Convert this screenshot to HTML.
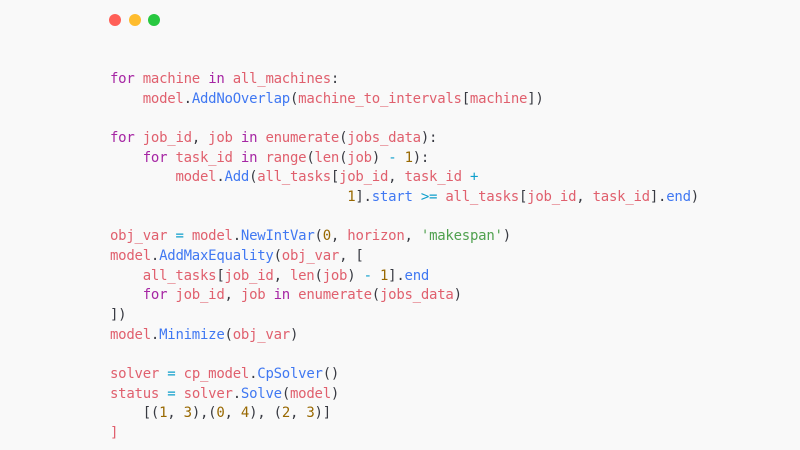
<!DOCTYPE html>
<html><head><meta charset="utf-8"><style>
html,body{margin:0;padding:0;width:800px;height:450px;background:#f9f9f9;overflow:hidden}
.dot{position:absolute;top:14px;width:12px;height:12px;border-radius:50%}
pre{position:absolute;left:110px;top:70px;margin:0;font-family:"DejaVu Sans Mono","Liberation Mono",monospace;font-size:14px;letter-spacing:-0.25px;line-height:19.67px;color:#383a42}
.k{color:#a626a4}.v{color:#e0606e}.f{color:#4078f2}.n{color:#986801}.s{color:#50a14f}.o{color:#0e9fcc}
</style></head><body>
<div class="dot" style="left:109px;background:#ff5f57"></div>
<div class="dot" style="left:129px;background:#febc2e"></div>
<div class="dot" style="left:148px;background:#28c840"></div>
<pre><span class="k">for</span> <span class="v">machine</span> <span class="k">in</span> <span class="v">all_machines</span>:
    <span class="v">model</span>.<span class="f">AddNoOverlap</span>(<span class="v">machine_to_intervals</span>[<span class="v">machine</span>])

<span class="k">for</span> <span class="v">job_id</span>, <span class="v">job</span> <span class="k">in</span> <span class="v">enumerate</span>(<span class="v">jobs_data</span>):
    <span class="k">for</span> <span class="v">task_id</span> <span class="k">in</span> <span class="v">range</span>(<span class="v">len</span>(<span class="v">job</span>) <span class="o">-</span> <span class="n">1</span>):
        <span class="v">model</span>.<span class="f">Add</span>(<span class="v">all_tasks</span>[<span class="v">job_id</span>, <span class="v">task_id</span> <span class="o">+</span>
                             <span class="n">1</span>].<span class="f">start</span> <span class="o">&gt;=</span> <span class="v">all_tasks</span>[<span class="v">job_id</span>, <span class="v">task_id</span>].<span class="f">end</span>)

<span class="v">obj_var</span> <span class="o">=</span> <span class="v">model</span>.<span class="f">NewIntVar</span>(<span class="n">0</span>, <span class="v">horizon</span>, <span class="s">'makespan'</span>)
<span class="v">model</span>.<span class="f">AddMaxEquality</span>(<span class="v">obj_var</span>, [
    <span class="v">all_tasks</span>[<span class="v">job_id</span>, <span class="v">len</span>(<span class="v">job</span>) <span class="o">-</span> <span class="n">1</span>].<span class="f">end</span>
    <span class="k">for</span> <span class="v">job_id</span>, <span class="v">job</span> <span class="k">in</span> <span class="v">enumerate</span>(<span class="v">jobs_data</span>)
])
<span class="v">model</span>.<span class="f">Minimize</span>(<span class="v">obj_var</span>)

<span class="v">solver</span> <span class="o">=</span> <span class="v">cp_model</span>.<span class="f">CpSolver</span>()
<span class="v">status</span> <span class="o">=</span> <span class="v">solver</span>.<span class="f">Solve</span>(<span class="v">model</span>)
    [(<span class="n">1</span>, <span class="n">3</span>),(<span class="n">0</span>, <span class="n">4</span>), (<span class="n">2</span>, <span class="n">3</span>)]
<span class="v">]</span></pre>
</body></html>
